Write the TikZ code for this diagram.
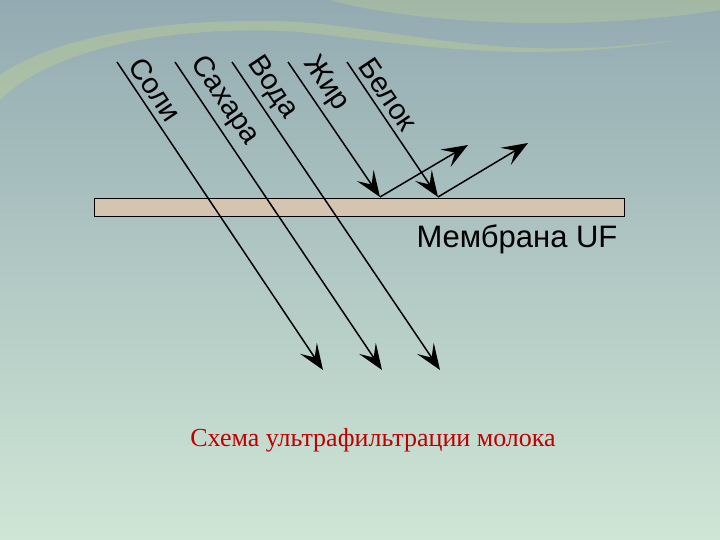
\documentclass[tikz,border=0pt]{standalone}
\usepackage{fontspec}
\setmainfont{Liberation Sans}
\newfontfamily\capfont{Liberation Serif}
\usetikzlibrary{arrows.meta,calc}
\definecolor{bgtop}{HTML}{93AAB2}
\definecolor{bgmid}{HTML}{AFC8CC}
\definecolor{bgbot}{HTML}{CFE6D6}
\definecolor{memb}{HTML}{D5C4AF}
\definecolor{swoosh}{HTML}{C8D88A}
\definecolor{capred}{HTML}{C00000}
\tikzset{
  ray/.style={line width=1.5pt, -{Stealth[length=26pt,width=20pt,inset=11pt]}},
  lab/.style={font=\fontsize{29}{29}\selectfont, rotate=-56, anchor=south west, inner sep=6pt},
}
\begin{document}
\begin{tikzpicture}[x=1pt,y=-1pt]
\useasboundingbox (0,0) rectangle (720,540);
\shade[top color=bgtop, middle color=bgmid, bottom color=bgbot] (0,0) rectangle (720,540);
\fill[swoosh, opacity=0.35] (0,75) .. controls (80,20) and (250,15) .. (330,25) .. controls (450,40) and (520,60) .. (680,40) .. controls (520,65) and (420,45) .. (300,32) .. controls (200,25) and (60,40) .. (0,100) -- cycle;
\fill[swoosh, opacity=0.3] (330,0) .. controls (400,20) and (560,35) .. (720,10) -- (720,0) -- cycle;
% membrane
\node[draw=black, fill=memb, line width=0.8pt, minimum width=530pt, minimum height=18pt, inner sep=0pt, anchor=north west] (m) at (94,198) {};
\node[font=\fontsize{31}{31}\selectfont] (mlab) at (517,239) {Мембрана UF};
% coordinates
\coordinate (s1) at (117,62); \coordinate (e1) at (323,370);
\coordinate (s2) at (175,62); \coordinate (e2) at (382,370);
\coordinate (s3) at (232,62); \coordinate (e3) at (440,370);
\coordinate (s4) at (288,62); \coordinate (e4) at (380,197);
\coordinate (s5) at (347,62); \coordinate (e5) at (438,197);
\coordinate (r4) at (468,145); \coordinate (r5) at (528,143);
\draw[ray] (s1) -- (e1);
\draw[ray] (s2) -- (e2);
\draw[ray] (s3) -- (e3);
\draw[ray] (s4) -- (e4);
\draw[ray] (s5) -- (e5);
\draw[ray] (e4) -- (r4);
\draw[ray] (e5) -- (r5);
\node[lab] (l1) at ($(s1)+(2,3)$) {Соли};
\node[lab] (l2) at ($(s2)+(2,3)$) {Сахара};
\node[lab] (l3) at ($(s3)+(2,3)$) {Вода};
\node[lab] (l4) at ($(s4)+(2,3)$) {Жир};
\node[lab] (l5) at ($(s5)+(2,3)$) {Белок};
\node[font=\capfont\fontsize{26}{26}\selectfont, text=capred] (cap) at (373,440) {Схема ультрафильтрации молока};
\end{tikzpicture}
\end{document}
